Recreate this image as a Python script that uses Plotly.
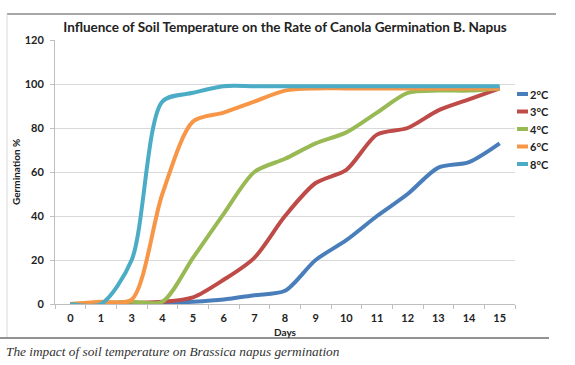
import plotly.graph_objects as go

days = ["0", "1", "3", "4", "5", "6", "7", "8", "9", "10", "11", "12", "13", "14", "15"]
series_names = ["2°C", "3°C", "4°C", "6°C", "8°C"]
t2 = [0, 0, 0, 0.5, 1, 2, 4, 6, 20, 29, 40, 50, 62, 64.5, 73]
t3 = [0, 0, 0.5, 1, 3, 11, 21, 40, 55, 61, 77, 80, 88, 93, 98]
t4 = [0, 0.5, 1, 1, 21, 41, 60, 66, 73, 78, 87, 96, 97, 97, 98]
t6 = [0, 1, 2, 50, 83, 87, 92, 97, 98, 98, 98, 98, 98, 98, 98]
t8 = [0, 0, 20, 92, 96, 99, 99, 99, 99, 99, 99, 99, 99, 99, 99]
y_ticks = [0, 20, 40, 60, 80, 100, 120]

values = [t2, t3, t4, t6, t8]
colors = ["#4a7ebb", "#be4b48", "#98b954", "#f79646", "#4bacc6"]

W, H = 575, 365
L, R, T, B = 55, 60, 40, 61
pw, ph = W - L - R, H - T - B

def px(x):
    return (x - L) / pw

def py(y):
    return (H - B - y) / ph

FONT = "Lato, 'Open Sans', sans-serif"

fig = go.Figure()
for name, vals, col in zip(series_names, values, colors):
    fig.add_trace(go.Scatter(
        x=days, y=vals, name=name, mode="lines",
        line=dict(color=col, width=4, shape="spline", smoothing=0.8),
        showlegend=False, hoverinfo="skip"))

shapes = [
    dict(type="line", xref="paper", yref="paper", x0=px(7), x1=px(556), y0=py(14), y1=py(14),
         line=dict(color="#8a8a8a", width=1.5)),
    dict(type="line", xref="paper", yref="paper", x0=px(7), x1=px(7), y0=py(14), y1=py(338),
         line=dict(color="#d9d9d9", width=1)),
    dict(type="line", xref="paper", yref="paper", x0=px(0), x1=px(549), y0=py(338), y1=py(338),
         line=dict(color="#6e6e6e", width=1.5)),
]
annotations = [
    dict(text="<b>Days</b>", xref="paper", yref="paper", x=px(285), y=py(331.5), showarrow=False,
         font=dict(family=FONT, size=10, color="#222"), xanchor="center", yanchor="middle"),
    dict(text="<b>Germination %</b>", xref="paper", yref="paper", x=px(16), y=py(172), showarrow=False,
         textangle=-90, font=dict(family=FONT, size=10, color="#222"), xanchor="center", yanchor="middle"),
    dict(text="<i>The impact of soil temperature on Brassica napus germination</i>", xref="paper",
         yref="paper", x=px(4), y=py(351), showarrow=False, xanchor="left", yanchor="middle",
         font=dict(family="'Liberation Serif', serif", size=13.3, color="#333")),
]
for i, (name, col) in enumerate(zip(series_names, colors)):
    yy = 94 + 17.5 * i
    shapes.append(dict(type="line", xref="paper", yref="paper", x0=px(517), x1=px(528),
                       y0=py(yy), y1=py(yy), line=dict(color=col, width=4)))
    annotations.append(dict(text="<b>" + name + "</b>", xref="paper", yref="paper", x=px(528), y=py(yy),
                            showarrow=False, xanchor="left", yanchor="middle",
                            font=dict(family=FONT, size=11, color="#222")))

fig.update_layout(
    width=W, height=H,
    margin=dict(l=L, r=R, t=T, b=B),
    paper_bgcolor="white", plot_bgcolor="white",
    title=dict(text="<b>Influence of Soil Temperature on the Rate of Canola Germination B. Napus</b>",
               x=px(283), xanchor="center", y=1 - 27 / H, yanchor="middle",
               font=dict(family=FONT, size=13.5, color="#222")),
    xaxis=dict(type="category", range=[-0.5, len(days) - 0.5], tickson="boundaries", ticks="outside",
               ticklen=4, tickcolor="#bfbfbf",
               showline=True, linecolor="#bfbfbf", showgrid=False, zeroline=False,
               tickfont=dict(family=FONT, size=11, color="#222", weight="bold"), ticklabelstandoff=4),
    yaxis=dict(range=[0, 120], tickvals=y_ticks, ticks="outside", ticklen=4, tickcolor="#bfbfbf",
               showline=True, linecolor="#bfbfbf", showgrid=True, gridcolor="#d9d9d9", zeroline=False,
               tickfont=dict(family=FONT, size=11, color="#222", weight="bold"), ticklabelstandoff=4),
    shapes=shapes, annotations=annotations,
)

fig.write_html("out.html", config={"displayModeBar": False},
               post_script="document.body.style.margin='0';")
